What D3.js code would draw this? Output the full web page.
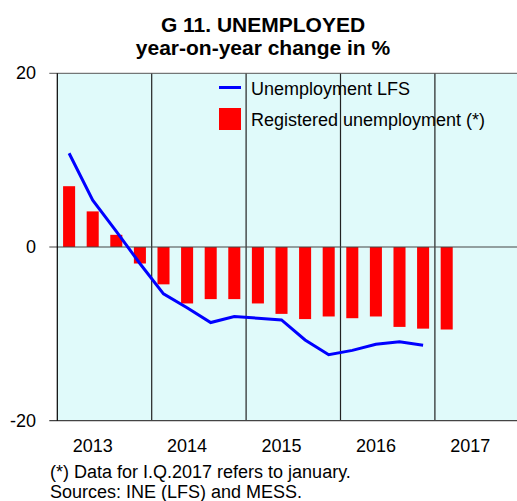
<!DOCTYPE html>
<html>
<head>
<meta charset="utf-8">
<script src="https://cdn.jsdelivr.net/npm/d3@7"></script>
<style>
body { margin: 0; background: #fff; }
text { font-family: Arial, "Liberation Sans", sans-serif; fill: #000; }
</style>
</head>
<body>
<svg id="chart" width="517" height="501"></svg>
<script>
var quarters = ["2013Q1","2013Q2","2013Q3","2013Q4","2014Q1","2014Q2","2014Q3","2014Q4",
    "2015Q1","2015Q2","2015Q3","2015Q4","2016Q1","2016Q2","2016Q3","2016Q4",
    "2017Q1","2017Q2","2017Q3","2017Q4"];
var years = ["2013", "2014", "2015", "2016", "2017"];
var registered = [7.0, 4.1, 1.4, -1.9, -4.3, -6.5, -6.0, -6.0, -6.5, -7.7, -8.3, -8.0, -8.2, -8.0, -9.2, -9.4, -9.5];
var lfs = [10.8, 5.4, 1.8, -1.9, -5.4, -7.0, -8.7, -8.0, -8.2, -8.4, -10.7, -12.4, -11.9, -11.2, -10.9, -11.3];
var yTicks = [-20, 0, 20];

var svg = d3.select("#chart");
// plot box (window.top is reserved, so other names)
var pLeft = 57.3, pRight = 529.3, pTop = 73.3, pBottom = 420.7;

var x = d3.scaleBand().domain(quarters).range([pLeft, pRight]).paddingInner(0.49).paddingOuter(0.245);
var y = d3.scaleLinear().domain([-20, 20]).range([pBottom, pTop]);

// title
svg.append("text").attr("x", 263).attr("y", 32).attr("text-anchor", "middle")
    .style("font-size", "21px").style("font-weight", "bold").text("G 11. UNEMPLOYED");
svg.append("text").attr("x", 263).attr("y", 55).attr("text-anchor", "middle")
    .style("font-size", "21px").style("font-weight", "bold").text("year-on-year change in %");

// background
svg.append("rect").attr("x", pLeft).attr("y", pTop).attr("width", pRight - pLeft).attr("height", pBottom - pTop)
    .attr("fill", "#e0fafa");

// year separators
for (var i = 1; i < years.length; i++) {
    var xs = x(quarters[i * 4]) - x.step() * x.paddingInner() / 2;
    svg.append("line").attr("x1", xs).attr("x2", xs).attr("y1", pTop).attr("y2", pBottom)
        .attr("stroke", "#222").attr("stroke-width", 1.2);
}

// bars
svg.selectAll(".bar")
    .data(registered)
    .enter()
    .append("rect")
    .attr("x", function(d, i) { return x(quarters[i]); })
    .attr("width", x.bandwidth())
    .attr("y", function(d) { return y(Math.max(0, d)); })
    .attr("height", function(d) { return Math.abs(y(d) - y(0)); })
    .attr("fill", "#ff0000");

// zero line and borders
svg.append("line").attr("x1", pLeft - 8).attr("x2", 517).attr("y1", y(0)).attr("y2", y(0))
    .attr("stroke", "#444").attr("stroke-width", 1.2);
svg.append("line").attr("x1", pLeft - 8).attr("x2", 517).attr("y1", pTop).attr("y2", pTop)
    .attr("stroke", "#555").attr("stroke-width", 1);
svg.append("line").attr("x1", pLeft - 8).attr("x2", 517).attr("y1", pBottom).attr("y2", pBottom)
    .attr("stroke", "#444").attr("stroke-width", 1.2);
svg.append("line").attr("x1", pLeft).attr("x2", pLeft).attr("y1", pTop).attr("y2", pBottom)
    .attr("stroke", "#000").attr("stroke-width", 1.2);

// line
var line = d3.line()
    .x(function(d, i) { return x(quarters[i]) + x.bandwidth() / 2; })
    .y(function(d) { return y(d); });
svg.append("path").datum(lfs).attr("d", line)
    .attr("fill", "none").attr("stroke", "#0000ff").attr("stroke-width", 3);

// y labels
svg.selectAll(".ylab")
    .data(yTicks)
    .enter()
    .append("text")
    .attr("x", 36)
    .attr("y", function(d) { return y(d) + 6; })
    .attr("text-anchor", "end")
    .style("font-size", "18px")
    .text(function(d) { return d; });

// x labels
svg.selectAll(".xlab")
    .data(years)
    .enter()
    .append("text")
    .attr("x", function(d, i) { return x(quarters[i * 4 + 1]) + x.bandwidth() / 2; })
    .attr("y", 452)
    .attr("text-anchor", "middle")
    .style("font-size", "18px")
    .text(function(d) { return d; });

// legend
svg.append("line").attr("x1", 219).attr("x2", 241).attr("y1", 87.5).attr("y2", 87.5)
    .attr("stroke", "#0000ff").attr("stroke-width", 3);
svg.append("text").attr("x", 251).attr("y", 95).style("font-size", "18px").text("Unemployment LFS");
svg.append("rect").attr("x", 219).attr("y", 108).attr("width", 22).attr("height", 22).attr("fill", "#ff0000");
svg.append("text").attr("x", 251).attr("y", 126).style("font-size", "18px").text("Registered unemployment (*)");

// notes
svg.append("text").attr("x", 50).attr("y", 478).style("font-size", "18px").text("(*) Data for I.Q.2017 refers to january.");
svg.append("text").attr("x", 50).attr("y", 498).style("font-size", "18px").text("Sources: INE (LFS) and MESS.");
</script>
</body>
</html>
